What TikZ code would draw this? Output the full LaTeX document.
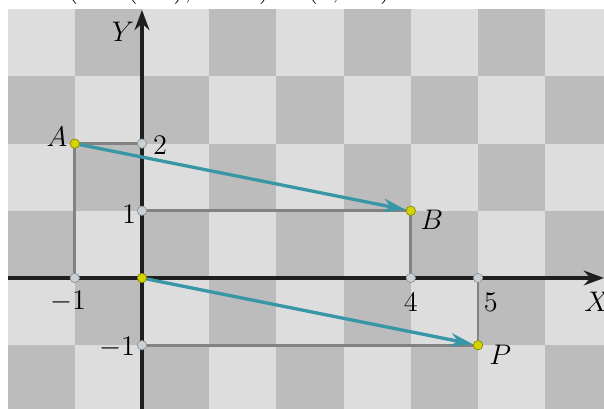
\documentclass[tikz,border=0pt]{standalone}
\usepackage{amsmath}
\usetikzlibrary{arrows.meta}
\definecolor{boardlight}{RGB}{221,221,221}
\definecolor{boarddark}{RGB}{188,188,188}
\definecolor{vecteal}{RGB}{56,150,166}
\definecolor{seggray}{RGB}{130,130,130}
\definecolor{ptyellow}{RGB}{212,212,0}
\definecolor{ptgray}{RGB}{200,210,214}

\begin{document}
\begin{tikzpicture}[>=Stealth,font=\fontsize{11.5}{14}\selectfont,
  seg/.style={seggray,line width=1.2pt},
  vec/.style={vecteal,line width=1.4pt,-{Stealth[length=3.4mm,width=2mm]}},
  axis/.style={black!88,line width=1.5pt,-{Stealth[length=3mm,width=2.2mm]}},
  ypt/.style={circle,fill=ptyellow,draw=ptyellow!65!black,line width=0.3pt,inner sep=0pt,minimum size=1.4mm},
  gpt/.style={circle,fill=ptgray,draw=ptgray!70!black,line width=0.3pt,inner sep=0pt,minimum size=1.4mm}]
  \useasboundingbox (-2.113,-1.949) rectangle (6.875,4.137);
  % checkerboard
  \begin{scope}
    \clip (-2,-1.949) rectangle (6.875,4);
    \fill[boardlight] (-2,-1.949) rectangle (6.875,4);
    \foreach \i in {-2,...,6}
      \foreach \j in {-2,...,3}{
        \pgfmathtruncatemacro\cellpar{mod(\i+\j+20,2)}
        \ifnum\cellpar=0 \fill[boarddark] (\i,\j) rectangle ++(1,1); \fi
      }
  \end{scope}
  % top line, cut off by the page
  \node[anchor=base west,inner sep=0pt,font=\fontsize{12.7}{15}\selectfont] (formula) at (-1.116,4.18) {$(4-(-1),1-2)=(5,-1)$};
  % points
  \coordinate (O) at (0,0);
  \coordinate (A) at (-1,2);
  \coordinate (B) at (4,1);
  \coordinate (P) at (5,-1);
  \coordinate (Ay) at (0,2);
  \coordinate (Ax) at (-1,0);
  \coordinate (By) at (0,1);
  \coordinate (Bx) at (4,0);
  \coordinate (Py) at (0,-1);
  \coordinate (Px) at (5,0);
  % axes
  \coordinate (xl) at (-2,0);
  \coordinate (xr) at (6.875,0);
  \coordinate (yb) at (0,-1.949);
  \coordinate (yt) at (0,3.99);
  \draw[axis] (xl) -- (xr);
  \draw[axis] (yb) -- (yt);
  \node at (-0.283,3.66) {$Y$};
  \node at (6.77,-0.357) {$X$};
  % projections
  \draw[seg] (Ay) -- (A) -- (Ax);
  \draw[seg] (By) -- (B) -- (Bx);
  \draw[seg] (Py) -- (P) -- (Px);
  \node[gpt] (Ay dot) at (Ay) {};
  \node[gpt] (Ax dot) at (Ax) {};
  \node[gpt] (By dot) at (By) {};
  \node[gpt] (Bx dot) at (Bx) {};
  \node[gpt] (Py dot) at (Py) {};
  \node[gpt] (Px dot) at (Px) {};
  \node[ypt] (A dot) at (A) {};
  \node[ypt] (B dot) at (B) {};
  \node[ypt] (O dot) at (O) {};
  \node[ypt] (P dot) at (P) {};
  % vectors
  \draw[vec] (A dot) -- (B dot);
  \draw[vec] (O dot) -- (P dot);
  % labels
  \node at (-1.265,2.098) {$A$};
  \node at (4.315,0.863) {$B$};
  \node at (5.33,-1.146) {$P$};
  \node at (0.268,1.98) {$2$};
  \node at (-0.193,0.952) {$1$};
  \node at (-1.10,-0.357) {$-1$};
  \node at (4,-0.357) {$4$};
  \node at (5.19,-0.357) {$5$};
  \node at (-0.372,-1.03) {$-1$};
\end{tikzpicture}
\end{document}
